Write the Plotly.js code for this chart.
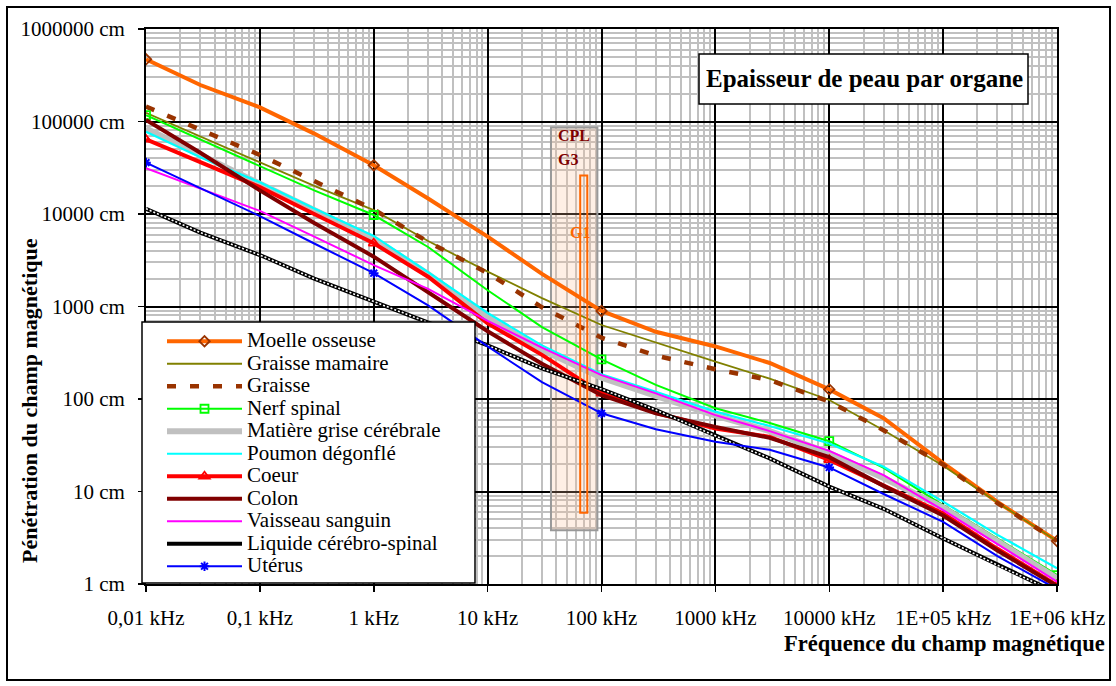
<!DOCTYPE html>
<html>
<head>
<meta charset="utf-8">
<script src="https://cdn.plot.ly/plotly-3.0.1.min.js"></script>
<style>html,body{margin:0;padding:0;background:#fff}</style>
</head>
<body>
<div id="chart" style="width:1116px;height:686px"></div>
<script>
// ---- data (frequency in kHz, penetration in cm) ----
const freq = [0.01, 0.03, 0.1, 0.3, 1, 3, 10, 30, 100, 300, 1000, 3000, 10000, 30000, 100000, 300000, 1000000];

const moelle   = [470000, 248000, 142000, 74000, 33600, 14700, 5700, 2250, 895, 533, 370, 245, 127, 62, 20.3, 7.7, 2.92];
const graisseMamaire = [124000, 69000, 36500, 20100, 11000, 5100, 2380, 1230, 631, 406, 253, 166, 97.5, 46, 19, 7.6, 2.92];
const graisse  = [145000, 81000, 43500, 22700, 11200, 5000, 2300, 980, 460, 295, 210, 160, 94, 46, 19.5, 7.5, 2.92];
const nerf     = [117000, 64000, 33000, 18000, 9750, 4400, 1500, 600, 268, 142, 79.5, 55, 35, 18, 7.14, 3.1, 1.25];
const matiere  = [84000, 44000, 21000, 11000, 5400, 2250, 760, 340, 170, 108, 66, 45, 26, 14, 6.7, 2.9, 1.15];
const poumon   = [77600, 41000, 22000, 11500, 5800, 2350, 850, 380, 185, 120, 73, 51, 33, 18.5, 7.77, 3.4, 1.48];
const coeur    = [64000, 36500, 19500, 10000, 4820, 2100, 657, 300, 115, 71, 48, 39, 22, 11.6, 5.8, 2.4, 0.97];
const colon    = [104000, 46000, 18000, 8000, 3460, 1430, 540, 240, 110, 70, 50, 38, 23.5, 11.5, 5.5, 2.3, 0.95];
const vaisseau = [31200, 18700, 10800, 5700, 2800, 1550, 700, 360, 181, 115, 67, 45, 27.5, 15, 6.3, 2.7, 1.06];
const liquide  = [11400, 6300, 3600, 2000, 1130, 670, 380, 214, 128, 76, 40, 22.8, 11.3, 6.5, 3.1, 1.6, 0.8];
const uterus   = [35900, 19000, 9500, 4800, 2290, 1030, 370, 152, 70, 47, 34.5, 28.2, 18.2, 9.4, 4.7, 2.0, 0.88];

const names = ['Moelle osseuse', 'Graisse mamaire', 'Graisse', 'Nerf spinal', 'Matière grise cérébrale',
  'Poumon dégonflé', 'Coeur', 'Colon', 'Vaisseau sanguin', 'Liquide cérébro-spinal', 'Utérus'];

const xTickVals = [0.01, 0.1, 1, 10, 100, 1000, 10000, 100000, 1000000];
const xTickText = ['0,01 kHz', '0,1 kHz', '1 kHz', '10 kHz', '100 kHz', '1000 kHz', '10000 kHz', '1E+05 kHz', '1E+06 kHz'];
const yTickVals = [1, 10, 100, 1000, 10000, 100000, 1000000];
const yTickText = ['1 cm', '10 cm', '100 cm', '1000 cm', '10000 cm', '100000 cm', '1000000 cm'];

// CPL / G3 and G1 frequency bands (kHz) and their drawn penetration extents (cm)
const cplBand = {fmin: 36, fmax: 92, pmin: 3.8, pmax: 86000};
const g1Band  = {fmin: 65, fmax: 75, pmin: 5.9, pmax: 26000};

// ---- helpers ----
const FONT = '"Liberation Serif", "Times New Roman", serif';
const L = v => Math.log10(v);
const markEvery = c => freq.map((f, i) => (i % 4 === 0 ? c : 'rgba(0,0,0,0)'));
const lbl = s => '<span style="font-size:21px">' + s + '</span>';

function line(y, name, color, width, extra) {
  const t = {x: freq, y: y, name: lbl(name), type: 'scatter', mode: 'lines',
    line: {color: color, width: width}, hoverinfo: 'skip'};
  return Object.assign(t, extra || {});
}

const traces = [
  line(moelle, names[0], '#ff6600', 4, {mode: 'lines+markers',
    marker: {symbol: 'diamond-open', size: 8, color: markEvery('#993300'), line: {width: 1.8}}}),
  line(graisseMamaire, names[1], '#808000', 1.8),
  Object.assign(line(graisse, names[2], '#993300', 4.5), {line: {color: '#993300', width: 4.5, dash: '9px,14px'}}),
  line(nerf, names[3], '#00ff00', 2, {mode: 'lines+markers',
    marker: {symbol: 'square-open', size: 8, color: markEvery('#00ff00'), line: {width: 1.8}}}),
  line(matiere, names[4], '#c0c0c0', 6),
  line(poumon, names[5], '#00ffff', 2.2),
  line(coeur, names[6], '#ff0000', 4, {mode: 'lines+markers',
    marker: {symbol: 'triangle-up-open', size: 9, color: markEvery('#ff0000'), line: {width: 1.8}}}),
  line(colon, names[7], '#800000', 4),
  line(vaisseau, names[8], '#ff00ff', 2),
  line(liquide, names[9], '#000000', 4),
  {x: freq, y: liquide, type: 'scatter', mode: 'lines', showlegend: false, hoverinfo: 'skip',
    line: {color: '#ffffff', width: 1.6, dash: '2px,2px'}},
  line(uterus, names[10], '#0000ff', 2, {mode: 'lines+markers',
    marker: {symbol: 'asterisk-open', size: 8, color: markEvery('#0000ff'), line: {width: 2}}})
];

const px2x = px => (px - 146) / 911;
const py2y = py => (584 - py) / 555;

const axisCommon = {
  type: 'log', tickmode: 'array', ticks: 'outside', ticklen: 6, tickwidth: 1.5, tickcolor: '#000',
  showline: true, linecolor: '#000', linewidth: 2, mirror: true,
  showgrid: true, gridcolor: '#000', gridwidth: 2, zeroline: false,
  minor: {tickmode: 'linear', dtick: 'D1', showgrid: true, gridcolor: '#c0c0c0', gridwidth: 2, ticks: ''},
  tickfont: {family: FONT, size: 21, color: '#000'}, fixedrange: true
};

const layout = {
  width: 1116, height: 686,
  margin: {l: 146, r: 59, t: 29, b: 102, pad: 0},
  paper_bgcolor: '#fff', plot_bgcolor: '#fff',
  font: {family: FONT, size: 21, color: '#000'},
  showlegend: true,
  hovermode: false,
  legend: {x: px2x(162), y: py2y(325), xanchor: 'left', yanchor: 'top',
    bgcolor: 'rgba(0,0,0,0)', borderwidth: 0, itemwidth: 75, tracegroupgap: 0,
    font: {family: FONT, size: 15, color: '#000'}},
  xaxis: Object.assign({}, axisCommon, {range: [-2, 6], tickvals: xTickVals, ticktext: xTickText, ticklabelstandoff: 8}),
  yaxis: Object.assign({}, axisCommon, {range: [0, 6], tickvals: yTickVals, ticktext: yTickText, ticklabelstandoff: 9}),
  shapes: [
    {type: 'rect', xref: 'paper', yref: 'paper', x0: px2x(7), x1: px2x(1110), y0: py2y(680), y1: py2y(7),
      line: {color: '#000', width: 2}, fillcolor: 'rgba(0,0,0,0)', layer: 'below'},
    {type: 'rect', xref: 'x', yref: 'y', x0: cplBand.fmin, x1: cplBand.fmax, y0: cplBand.pmin, y1: cplBand.pmax,
      line: {color: '#999999', width: 2}, fillcolor: 'rgba(250,190,150,0.25)', layer: 'between'},
    {type: 'rect', xref: 'x', yref: 'y', x0: g1Band.fmin, x1: g1Band.fmax, y0: g1Band.pmin, y1: g1Band.pmax,
      line: {color: '#ff6600', width: 2}, fillcolor: 'rgba(0,0,0,0)', layer: 'above'},
    {type: 'rect', xref: 'paper', yref: 'paper', x0: px2x(699), x1: px2x(1028), y0: py2y(104), y1: py2y(54),
      line: {color: '#000', width: 1.5}, fillcolor: '#fff', layer: 'above'},
    {type: 'rect', xref: 'paper', yref: 'paper', x0: px2x(142), x1: px2x(475), y0: py2y(583), y1: py2y(322),
      line: {color: '#000', width: 1.5}, fillcolor: '#fff', layer: 'above'}
  ],
  annotations: [
    {text: '<b>Epaisseur de peau par organe</b>', xref: 'paper', yref: 'paper', x: px2x(864), y: py2y(79),
      xanchor: 'center', yanchor: 'middle', showarrow: false, font: {family: FONT, size: 25, color: '#000'}},
    {text: '<b>Pénétration du champ magnétique</b>', xref: 'paper', yref: 'paper', x: px2x(29), y: py2y(401),
      xanchor: 'center', yanchor: 'middle', textangle: -90, showarrow: false, font: {family: FONT, size: 22, color: '#000'}},
    {text: '<b>Fréquence du champ magnétique</b>', xref: 'paper', yref: 'paper', x: px2x(1107), y: py2y(643),
      xanchor: 'right', yanchor: 'middle', showarrow: false, font: {family: FONT, size: 22.5, color: '#000'}},
    {text: '<b>CPL</b>', xref: 'x', yref: 'y', x: L(40), y: L(71400), xanchor: 'left', yanchor: 'middle', showarrow: false,
      font: {family: FONT, size: 16, color: '#800000'}},
    {text: '<b>G3</b>', xref: 'x', yref: 'y', x: L(40), y: L(38400), xanchor: 'left', yanchor: 'middle', showarrow: false,
      font: {family: FONT, size: 16, color: '#800000'}},
    {text: '<b>G1</b>', xref: 'x', yref: 'y', x: L(51), y: L(6240), xanchor: 'left', yanchor: 'middle', showarrow: false,
      font: {family: FONT, size: 16, color: '#ff6600'}}
  ]
};

Plotly.newPlot('chart', traces, layout, {staticPlot: true, displayModeBar: false});
</script>
</body>
</html>
